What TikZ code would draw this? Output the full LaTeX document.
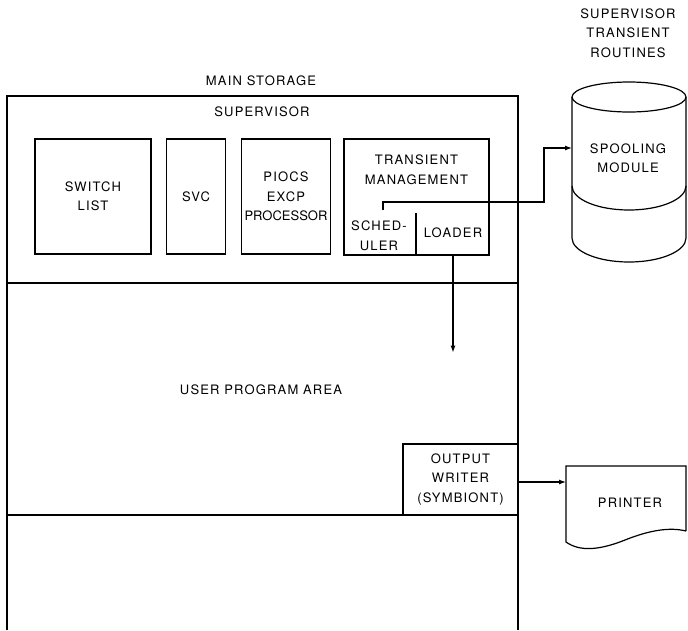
\documentclass[tikz,border=0pt]{standalone}
\usepackage{fontspec}
\setmainfont{TeX Gyre Heros}[LetterSpace=9]
\newfontfamily\tightfont{TeX Gyre Heros}
\usetikzlibrary{arrows.meta,calc}

\begin{document}
\begin{tikzpicture}[x=1pt,y=-1pt,line width=1.2pt,
    font=\fontsize{13}{19.5}\selectfont,
    lbl/.style={align=center,inner sep=0pt},
    blk/.style={draw,align=center,inner sep=0pt},
    arr/.style={-{Latex[length=7pt,width=5pt]}}]
  \useasboundingbox (0,0) rectangle (688,630);
  % Main storage
  \draw (7,630) -- (7,96) -- (518,96) -- (518,630);
  \draw (7,283) -- (518,283);
  \draw (7,515) -- (518,515);
  \node[lbl] (ms) at (261,81) {MAIN STORAGE};
  \node[lbl] (sup) at (262,112) {SUPERVISOR};
  \node[lbl] (upa) at (261,390) {USER PROGRAM AREA};
  % Supervisor blocks
  \node[blk,minimum width=116pt,minimum height=115pt] (swl) at (93,196.5) {SWITCH\\LIST};
  \node[blk,minimum width=59pt,minimum height=115pt] (svc) at (196,196.5) {SVC};
  \node[blk,minimum width=89pt,minimum height=115pt] (piocs) at (286,196.5) {PIOCS\\EXCP\\{\tightfont PROCESSOR}};
  \node[blk,minimum width=145pt,minimum height=116pt] (tm) at (416.5,197) {};
  \node[lbl] (tmt) at (416.5,170) {TRANSIENT\\MANAGEMENT};
  \coordinate (divtop) at (416,213);
  \draw (divtop) -- (divtop |- tm.south);
  \node[lbl] (sched) at (379,236) {SCHED-\\ULER};
  \node[lbl] (loader) at (453,233) {LOADER};
  % Output writer
  \node[blk,minimum width=115pt,minimum height=71pt] (ow) at (460.5,479.5) {OUTPUT\\WRITER\\(SYMBIONT)};
  % Spooling module (disk)
  \draw (629,97) ellipse [x radius=57,y radius=15];
  \draw (572,97) -- (572,238) arc[start angle=180,end angle=0,x radius=57,y radius=24] -- (686,97);
  \draw (572,186) arc[start angle=180,end angle=0,x radius=57,y radius=24];
  \node[lbl] (str) at (628,33) {SUPERVISOR\\TRANSIENT\\ROUTINES};
  \node[lbl] (spool) at (628,158.5) {SPOOLING\\MODULE};
  \coordinate (cylw) at (572,148);
  % Printer
  \draw (686,531) -- (686,466) -- (566,466) -- (566,542) .. controls (580,552) and (600,550) .. (625,540) .. controls (650,530) and (670,527) .. (686,531);
  \node[lbl] (prn) at (630,503) {PRINTER};
  \coordinate (prnw) at (566,482);
  % Arrows
  \coordinate (schedtop) at (383,210);
  \draw[arr] (schedtop) |- (544,202) |- (cylw);
  \draw[arr] (loader |- tm.south) -- ++(0,97);
  \draw[arr] (ow.east |- prnw) -- (prnw);
\end{tikzpicture}
\end{document}
